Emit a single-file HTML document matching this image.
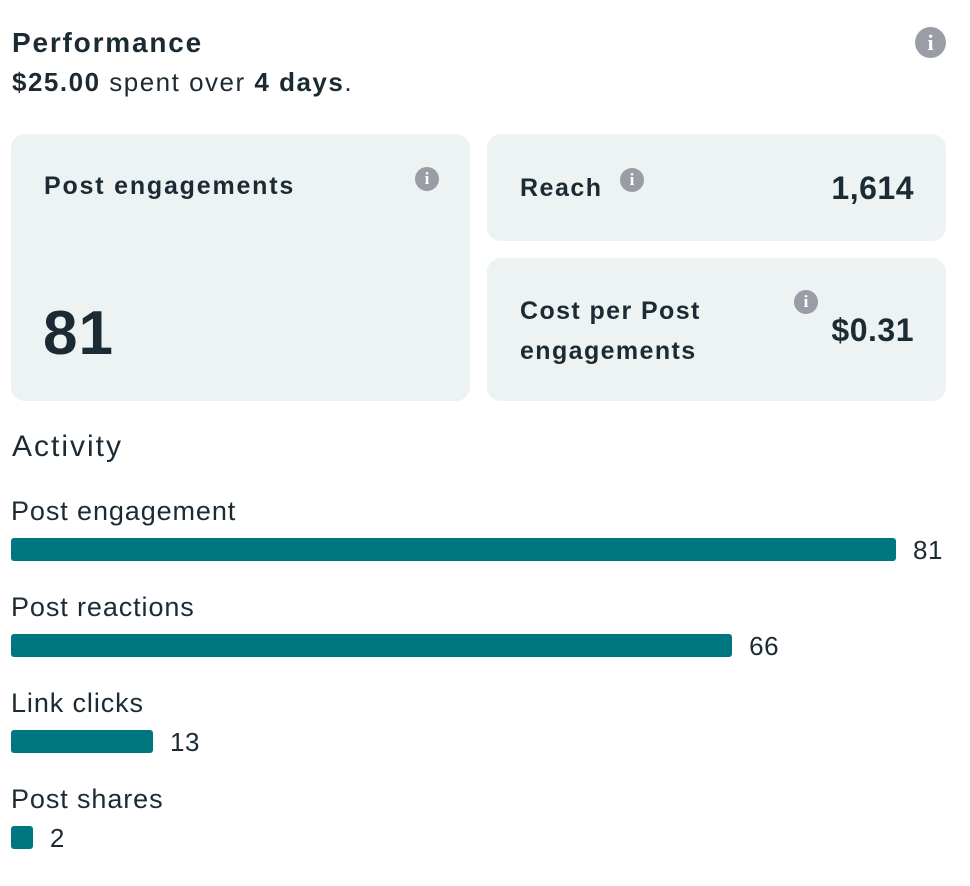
<!DOCTYPE html>
<html><head><meta charset="utf-8"><style>
body{margin:0;width:970px;height:886px;background:#fff;font-family:"Liberation Sans",sans-serif;color:#1c2b33;position:relative;overflow:hidden}
.a{position:absolute;white-space:nowrap}
.card{position:absolute;background:#edf2f3;border-radius:14px}
.info{position:absolute;border-radius:50%;background:#9a9da5;color:#fff;font-weight:bold;font-family:"Liberation Serif",serif;text-align:center}
.b{font-weight:bold}
</style></head><body>
<div class="a b" style="left:12px;top:27px;font-size:28px;letter-spacing:1.8px">Performance</div>
<div class="a" style="left:12px;top:67px;font-size:26px;letter-spacing:1.5px"><b>$25.00</b> spent over <b>4 days</b>.</div>
<div class="info" style="left:915px;top:27px;width:31px;height:31px;line-height:31px;font-size:22px">i</div>

<div class="card" style="left:11px;top:134px;width:459px;height:267px"></div>
<div class="a b" style="left:44px;top:172px;font-size:25px;letter-spacing:1.8px">Post engagements</div>
<div class="info" style="left:415px;top:167px;width:24px;height:24px;line-height:24px;font-size:17px">i</div>
<div class="a b" style="left:43px;top:298px;font-size:62px;letter-spacing:1px">81</div>

<div class="card" style="left:487px;top:134px;width:459px;height:107px"></div>
<div class="a b" style="left:520px;top:174px;font-size:25px;letter-spacing:1.5px">Reach</div>
<div class="info" style="left:620px;top:168px;width:24px;height:24px;line-height:24px;font-size:17px">i</div>
<div class="a b" style="right:56px;top:170px;font-size:32px;letter-spacing:0.5px">1,614</div>

<div class="card" style="left:487px;top:258px;width:459px;height:143px"></div>
<div class="a b" style="left:520px;top:291px;font-size:25px;line-height:40px;white-space:normal;width:260px;letter-spacing:1.4px">Cost per Post engagements</div>
<div class="info" style="left:794px;top:290px;width:24px;height:24px;line-height:24px;font-size:17px">i</div>
<div class="a b" style="right:56px;top:312px;font-size:32px;letter-spacing:0.5px">$0.31</div>

<div class="a" style="left:12px;top:430px;font-size:30px;letter-spacing:2px">Activity</div>
<div id="chart"></div>
<script>
const categories=["Post engagement","Post reactions","Link clicks","Post shares"];
const values=[81,66,13,2];
const maxVal=81;
const x=v=>v/maxVal*885;
const chart=document.getElementById('chart');
categories.forEach((c,i)=>{
  const y0=538+i*96;
  const l=document.createElement('div');
  
  
  l.className='a';l.style.cssText=`left:11px;top:${y0-42}px;font-size:27px;letter-spacing:0.9px`;l.textContent=c;chart.appendChild(l);
  const b=document.createElement('div');
  
  
  b.className='a';b.style.cssText=`left:11px;top:${y0}px;height:23px;width:${x(values[i])}px;background:#007680;border-radius:3px`;chart.appendChild(b);
  const v=document.createElement('div');
  
  
  v.className='a';v.style.cssText=`left:${11+x(values[i])+17}px;top:${y0-3}px;font-size:26px;letter-spacing:0.5px`;v.textContent=values[i];chart.appendChild(v);
});
</script>
</body></html>
